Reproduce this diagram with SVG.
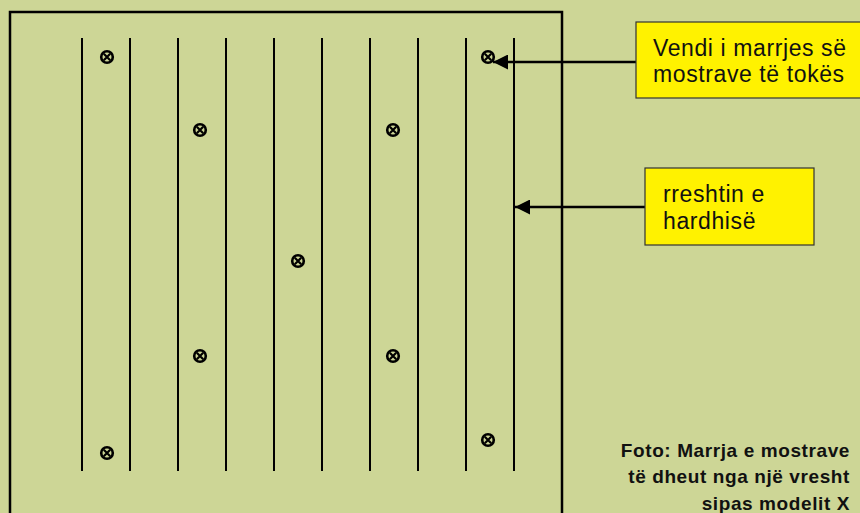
<svg xmlns="http://www.w3.org/2000/svg" width="860" height="513" viewBox="0 0 860 513">
<defs>
<style>
.row{stroke:#000;stroke-width:2}
.box{fill:#fff200;stroke:#333;stroke-width:1.2}
.lbl{font-family:"Liberation Sans",Arial,sans-serif;font-size:23px;letter-spacing:0.6px;fill:#111}
.cap{font-family:"Liberation Sans",Arial,sans-serif;font-weight:bold;font-size:19px;letter-spacing:0.6px;fill:#111;text-anchor:end}
.conn{stroke:#000;stroke-width:2.5;fill:none}
</style>
<symbol id="mk" viewBox="-8 -8 16 16" width="16" height="16" overflow="visible">
<circle r="5.8" fill="none" stroke="#000" stroke-width="2.6"/>
<path d="M-3.2,-3.2 L3.2,3.2 M3.2,-3.2 L-3.2,3.2" stroke="#000" stroke-width="2.2"/>
</symbol>
<marker id="ah" viewBox="0 0 10 10" refX="10" refY="5" markerUnits="userSpaceOnUse" markerWidth="15" markerHeight="15" orient="auto">
<path d="M0,0 L10,5 L0,10 z" fill="#000"/>
</marker>
</defs>
<rect width="860" height="513" fill="#cdd696"/>
<g id="field">
<rect x="10" y="12" width="552" height="520" fill="none" stroke="#000" stroke-width="2.5"/>
<g id="rows">
<line class="row" x1="82" y1="38" x2="82" y2="471"/>
<line class="row" x1="130" y1="38" x2="130" y2="471"/>
<line class="row" x1="178" y1="38" x2="178" y2="471"/>
<line class="row" x1="226" y1="38" x2="226" y2="471"/>
<line class="row" x1="274" y1="38" x2="274" y2="471"/>
<line class="row" x1="322" y1="38" x2="322" y2="471"/>
<line class="row" x1="370" y1="38" x2="370" y2="471"/>
<line class="row" x1="418" y1="38" x2="418" y2="471"/>
<line class="row" x1="466" y1="38" x2="466" y2="471"/>
<line class="row" x1="514" y1="38" x2="514" y2="471"/>
</g>
<g id="samples">
<use href="#mk" x="99" y="49"/>
<use href="#mk" x="192" y="122"/>
<use href="#mk" x="385" y="122"/>
<use href="#mk" x="290" y="253"/>
<use href="#mk" x="192" y="348"/>
<use href="#mk" x="385" y="348"/>
<use href="#mk" x="99" y="445"/>
<use href="#mk" x="480" y="49"/>
<use href="#mk" x="480" y="432"/>
</g>
</g>
<g id="connectors">
<line class="conn" x1="636" y1="62" x2="493" y2="62" marker-end="url(#ah)"/>
<line class="conn" x1="645" y1="207" x2="515" y2="207" marker-end="url(#ah)"/>
</g>
<g id="label-sample">
<rect class="box" x="636" y="22" width="240" height="76"/>
<text class="lbl" x="653" y="56">Vendi i marrjes së</text>
<text class="lbl" x="653" y="82">mostrave të tokës</text>
</g>
<g id="label-row">
<rect class="box" x="645" y="168" width="169" height="77"/>
<text class="lbl" x="663" y="202">rreshtin e</text>
<text class="lbl" x="663" y="229">hardhisë</text>
</g>
<g id="caption">
<text class="cap" x="850" y="457">Foto: Marrja e mostrave</text>
<text class="cap" x="850" y="483">të dheut nga një vresht</text>
<text class="cap" x="850" y="510">sipas modelit X</text>
</g>
</svg>
